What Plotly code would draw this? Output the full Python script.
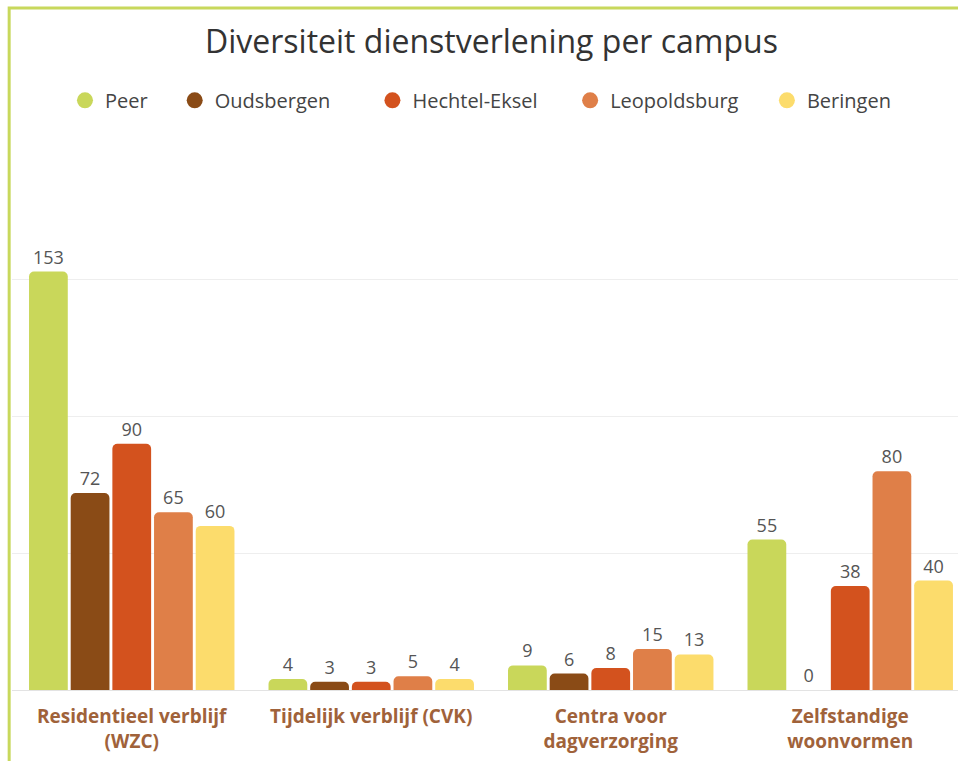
import plotly.graph_objects as go

# categories on the x axis
categories = [
    "Residentieel verblijf<br>(WZC)",
    "Tijdelijk verblijf (CVK)",
    "Centra voor<br>dagverzorging",
    "Zelfstandige<br>woonvormen",
]

# values per campus
peer = [153, 4, 9, 55]
oudsbergen = [72, 3, 6, 0]
hechtel_eksel = [90, 3, 8, 38]
leopoldsburg = [65, 5, 15, 80]
beringen = [60, 4, 13, 40]

campuses = ["Peer", "Oudsbergen", "Hechtel-Eksel", "Leopoldsburg", "Beringen"]
series = [peer, oudsbergen, hechtel_eksel, leopoldsburg, beringen]
colors = ["#c9d75a", "#8a4b16", "#d3521e", "#df7f48", "#fcdc6c"]

y_ticks = [0, 50, 100, 150, 200]

# left edge of each legend entry (paper fraction)
legend_x = [0.056, 0.172, 0.381, 0.590, 0.798]

fig = go.Figure()

for name, vals, col in zip(campuses, series, colors):
    fig.add_trace(go.Bar(
        x=categories, y=vals, name=name,
        marker=dict(color=col, line=dict(width=0)),
        text=[str(v) for v in vals],
        textposition="outside",
        cliponaxis=False,
        textfont=dict(family="Open Sans", size=18, color="#555555"),
        showlegend=False,
    ))

# legend entries with round symbols, one small legend each
legends = {}
for i, (name, col, lx) in enumerate(zip(campuses, colors, legend_x)):
    key = "legend" if i == 0 else f"legend{i + 1}"
    fig.add_trace(go.Scatter(
        x=[None], y=[None], mode="markers", name=name, legend=key,
        marker=dict(color=col, size=16, symbol="circle"),
    ))
    legends[key] = dict(
        orientation="h", x=lx, xanchor="left", y=1.078, yanchor="middle",
        font=dict(family="Open Sans", size=20, color="#444444"),
        itemsizing="trace", bgcolor="rgba(0,0,0,0)",
    )

fig.update_layout(
    width=958, height=761,
    margin=dict(l=12, r=0, t=143, b=71),
    paper_bgcolor="#ffffff", plot_bgcolor="#ffffff",
    font=dict(family="Open Sans", color="#333333"),
    title=dict(
        text="Diversiteit dienstverlening per campus",
        x=0.513, xanchor="center", y=0.945, yanchor="middle",
        font=dict(family="Open Sans", size=32, color="#333333"),
    ),
    barmode="group",
    bargap=0.13,
    bargroupgap=0.07,
    barcornerradius=5,
    xaxis=dict(
        type="category",
        range=[-0.5, 3.45],
        showgrid=False,
        showline=False,
        ticks="",
        ticklabelstandoff=13,
        tickfont=dict(family="Open Sans", size=19, color="#a0623a", weight="bold"),
    ),
    yaxis=dict(
        range=[0, 200],
        tickvals=y_ticks,
        showticklabels=False,
        gridcolor="#eeeeee",
        zeroline=True, zerolinecolor="#e3e3e3", zerolinewidth=1,
    ),
    shapes=[dict(
        type="rect", xref="paper", yref="paper",
        x0=-0.003, x1=1.1, y0=-0.3, y1=1.247,
        line=dict(color="#c8d85c", width=3),
        layer="above",
    )],
    **legends,
)

fig.write_html(
    "out.html",
    config={"displayModeBar": False},
    post_script="document.body.style.margin='0';",
)
